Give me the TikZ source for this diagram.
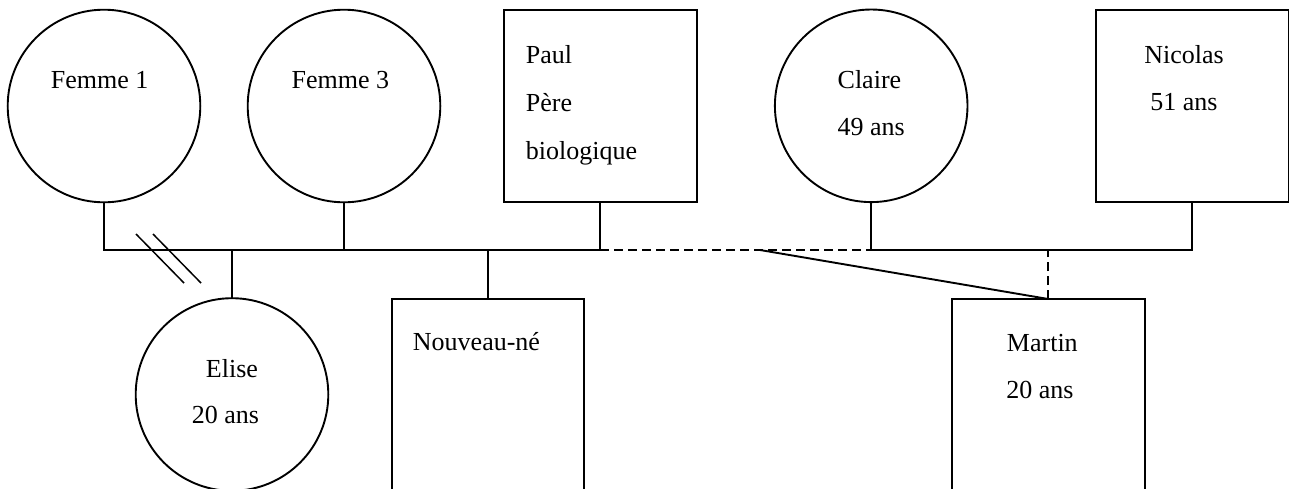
\documentclass[tikz,border=0pt]{standalone}
\usepackage{fontspec}
\setmainfont{Liberation Serif}
\begin{document}
\begin{tikzpicture}[x=1pt, y=-1pt, line width=1.9pt,
  person/.style={draw, inner sep=0pt, outer sep=0pt},
  female/.style={person, circle, minimum size=192.6pt},
  male/.style={person, rectangle, minimum width=192.6pt, minimum height=192pt},
  lbl/.style={anchor=base west, inner sep=0pt, font=\fontsize{26}{30}\selectfont},
  dashedlink/.style={dash pattern=on 9pt off 5pt}]
  \clip (0,0) rectangle (1289,488);

  % parents' generation
  \node[female] (f1) at (104,106) {};
  \node[female] (f3) at (344,106) {};
  \node[male] (paul) at (600.3,106.3) {};
  \node[female] (claire) at (871.2,105.8) {};
  \node[male] (nicolas) at (1192.2,106.3) {};

  % children
  \node[female] (elise) at (232,394.5) {};
  \node[male] (nn) at (488,395) {};
  \node[male] (martin) at (1048.3,395) {};

  % names
  \node[lbl] (tf1) at (50,88) {Femme 1};
  \node[lbl] (tf3) at (290.7,88) {Femme 3};
  \node[lbl] (tpaul1) at (525,63) {Paul};
  \node[lbl] (tpaul2) at (525,111) {Père};
  \node[lbl] (tpaul3) at (525,159) {biologique};
  \node[lbl] (tclaire1) at (836.7,88) {Claire};
  \node[lbl] (tclaire2) at (836.7,135) {49 ans};
  \node[lbl] (tnico1) at (1143.3,63) {Nicolas};
  \node[lbl] (tnico2) at (1149.3,110) {51 ans};
  \node[lbl] (telise1) at (205,377) {Elise};
  \node[lbl] (telise2) at (191,423) {20 ans};
  \node[lbl] (tnn) at (412,350) {Nouveau-né};
  \node[lbl] (tmartin1) at (1006,351) {Martin};
  \node[lbl] (tmartin2) at (1005.3,398) {20 ans};

  % sibship line
  \coordinate (sibrow) at (0,250);
  \draw (f1.south) -- (f1.south |- sibrow) -- (paul.south |- sibrow) -- (paul.south);
  \draw (f3.south) -- (f3.south |- sibrow);
  \draw (elise.north) -- (elise.north |- sibrow);
  \draw (nn.north) -- (nn.north |- sibrow);
  \draw[dashedlink] (paul.south |- sibrow) -- (claire.south |- sibrow);
  \draw (claire.south) -- (claire.south |- sibrow) -- (nicolas.south |- sibrow) -- (nicolas.south);
  \draw[dashedlink] (martin.north) -- (martin.north |- sibrow);
  \coordinate (branch) at (760,250);
  \draw (branch) -- (martin.north);

  % separation mark
  \coordinate (s1a) at (136,234);
  \coordinate (s1b) at (184,283);
  \coordinate (s2a) at (153,234);
  \coordinate (s2b) at (201,283);
  \draw[line width=1.5pt] (s1a) -- (s1b);
  \draw[line width=1.5pt] (s2a) -- (s2b);
\end{tikzpicture}
\end{document}
